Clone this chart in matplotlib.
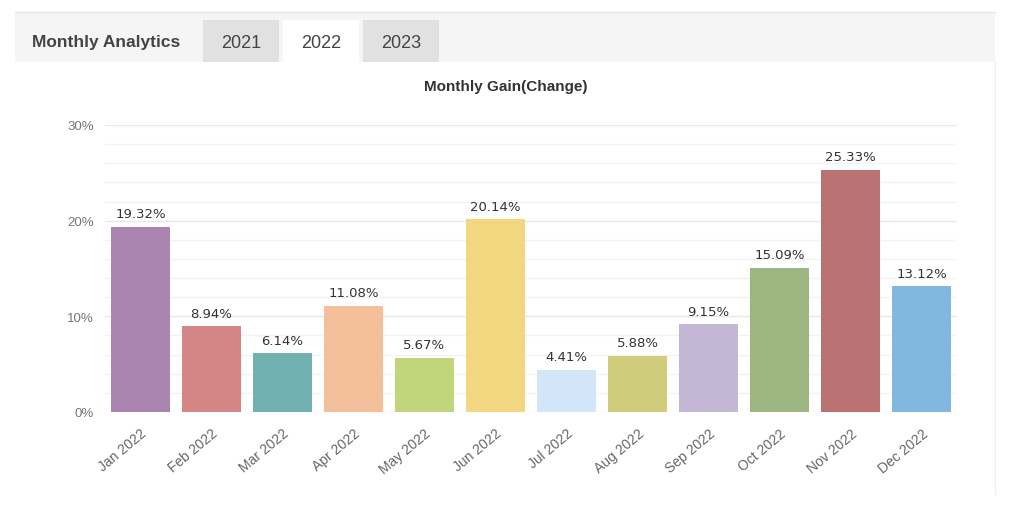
import numpy as np
import matplotlib.pyplot as plt
from matplotlib.patches import Rectangle
from matplotlib.lines import Line2D

plt.rcParams['font.family'] = ['Liberation Sans', 'DejaVu Sans']

months = ['Jan 2022', 'Feb 2022', 'Mar 2022', 'Apr 2022', 'May 2022', 'Jun 2022',
          'Jul 2022', 'Aug 2022', 'Sep 2022', 'Oct 2022', 'Nov 2022', 'Dec 2022']
gains = [19.32, 8.94, 6.14, 11.08, 5.67, 20.14, 4.41, 5.88, 9.15, 15.09, 25.33, 13.12]
colors = ['#a985b0', '#d48686', '#72b1b1', '#f4c09c', '#c1d67b', '#f3d680',
          '#d1e6f8', '#cfcd7c', '#c4b6d5', '#9db581', '#b97171', '#80b8e0']
tabs = ['2021', '2022', '2023']

W, H = 1024, 510
fig = plt.figure(figsize=(W / 100, H / 100), dpi=100)

def px(x, y):
    # pixel (top-left origin) -> figure coords
    return x / W, 1 - y / H

# header band
x0, y0 = px(15, 63)
fig.patches.append(Rectangle((x0, y0), (995 - 15) / W, 50 / H, transform=fig.transFigure,
                             facecolor='#f5f5f5', edgecolor='none', zorder=0))
fig.lines.append(Line2D([15 / W, 995 / W], [1 - 13 / H] * 2, transform=fig.transFigure,
                        color='#e6e6e6', lw=1))
fig.lines.append(Line2D([995 / W] * 2, [1 - 63 / H, 1 - 495 / H], transform=fig.transFigure,
                        color='#efefef', lw=1))
fig.text(*px(32, 43), 'Monthly Analytics', fontsize=12.5, fontweight='bold', color='#444444',
         va='center', ha='left')
tab_x = [203, 283, 363]
for t, tx in zip(tabs, tab_x):
    fc = '#ffffff' if t == '2022' else '#e1e1e1'
    bx, by = px(tx, 63)
    fig.patches.append(Rectangle((bx, by), 76 / W, 42 / H, transform=fig.transFigure,
                                 facecolor=fc, edgecolor='none', zorder=1))
    fig.text(*px(tx + 38, 43), t, fontsize=13, color='#444444', ha='center', va='center')

fig.text(*px(506, 87), 'Monthly Gain(Change)', fontsize=11, fontweight='bold',
         color='#333333', ha='center', va='center')

# chart area
left, right, top, bottom = 105, 957, 126, 413
ax = fig.add_axes([left / W, 1 - bottom / H, (right - left) / W, (bottom - top) / H])
x = np.arange(len(months))
ax.bar(x, gains, width=0.82, color=colors, zorder=3)
for xi, g in zip(x, gains):
    ax.text(xi, g + 0.7, f'{g:.2f}%', ha='center', va='bottom', fontsize=9.5,
            color='#333333', family='DejaVu Sans')

ax.set_ylim(0, 30)
ax.set_xlim(-0.5, len(months) - 0.5)
ax.set_yticks([0, 10, 20, 30])
ax.set_yticklabels(['0%', '10%', '20%', '30%'])
ax.set_yticks(np.arange(0, 31, 2), minor=True)
ax.grid(axis='y', which='major', color='#e8e8e8', lw=1, zorder=0)
ax.grid(axis='y', which='minor', color='#f3f3f3', lw=1, zorder=0)
ax.set_xticks(x)
ax.set_xticklabels(months, rotation=40, ha='right', rotation_mode='anchor')
ax.tick_params(axis='both', which='both', length=0)
ax.tick_params(axis='y', pad=8, labelsize=9.5, labelcolor='#777777')
ax.tick_params(axis='x', pad=10, labelsize=10, labelcolor='#666666')
for s in ax.spines.values():
    s.set_visible(False)

fig.savefig('out.png', dpi=100)
